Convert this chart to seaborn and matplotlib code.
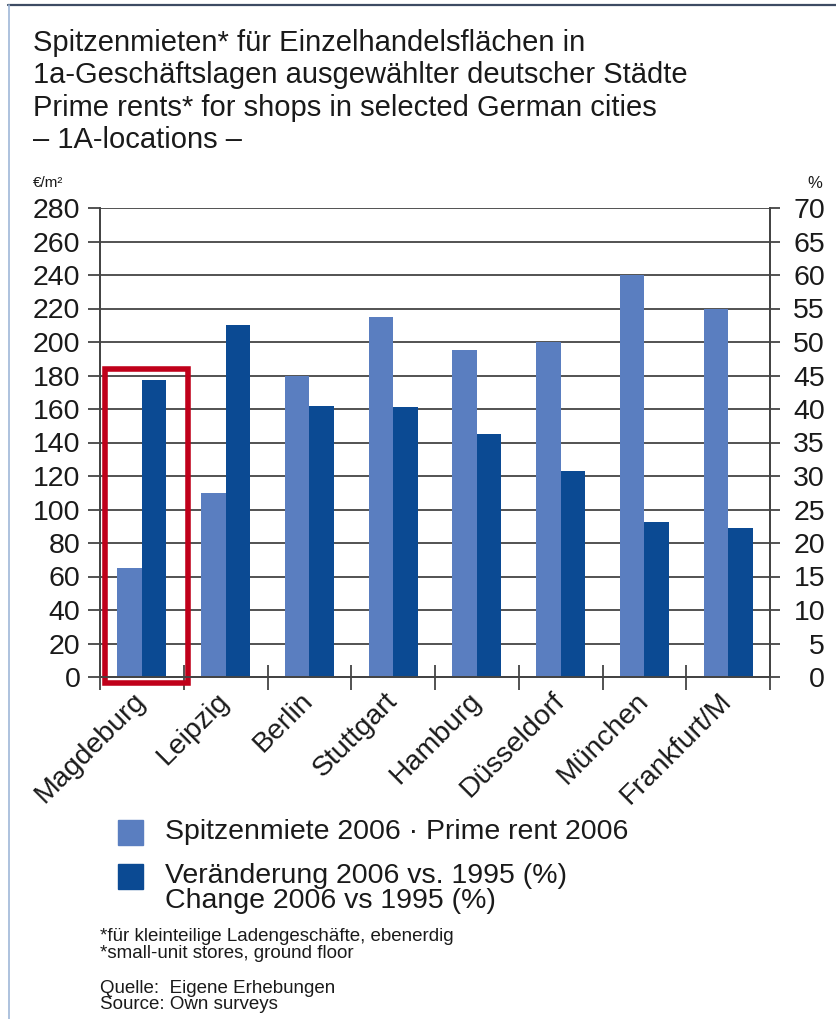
import numpy as np
import pandas as pd
import matplotlib
matplotlib.use("Agg")
import matplotlib.pyplot as plt
import seaborn as sns
from matplotlib.patches import Rectangle
from matplotlib.lines import Line2D
from matplotlib.ticker import FixedLocator

# ---------------- data ----------------
cities = ["Magdeburg", "Leipzig", "Berlin", "Stuttgart", "Hamburg",
          "Düsseldorf", "München", "Frankfurt/M"]
rent_2006 = [65, 110, 180, 215, 195, 200, 240, 220]          # €/m²
change_pct = [44.4, 52.6, 40.5, 40.3, 36.3, 30.7, 23.1, 22.2]  # %
left_ticks = list(range(0, 281, 20))
right_ticks = list(range(0, 71, 5))
series_rent = "Spitzenmiete 2006 · Prime rent 2006"
series_change = "Veränderung 2006 vs. 1995 (%)"
series_change_en = "Change 2006 vs 1995 (%)"
title_lines = ["Spitzenmieten* für Einzelhandelsflächen in",
               "1a-Geschäftslagen ausgewählter deutscher Städte",
               "Prime rents* for shops in selected German cities",
               "– 1A-locations –"]
footnotes = ["*für kleinteilige Ladengeschäfte, ebenerdig",
             "*small-unit stores, ground floor"]
sources = ["Quelle:  Eigene Erhebungen", "Source: Own surveys"]

light = "#5a7ec0"
dark = "#0b4a93"
palette = {series_rent: light, series_change: dark}
grid_c = "#444444"
txt_c = "#1a1a1a"

sns.set_theme(style="white")
plt.rcParams['font.family'] = ['Liberation Sans', 'DejaVu Sans']

W, H = 836, 1019
def fx(px): return px / W
def fy(py): return 1 - py / H

fig = plt.figure(figsize=(W / 100, H / 100), dpi=100)
ax = fig.add_axes([fx(100), fy(677), 670 / W, 469 / H])
ax2 = ax.twinx()

df = pd.DataFrame({
    "city": cities * 2,
    "series": [series_rent] * len(cities) + [series_change] * len(cities),
    "rent": rent_2006 + [np.nan] * len(cities),
    "change": [np.nan] * len(cities) + change_pct,
})
hue_order = [series_rent, series_change]
sns.barplot(data=df, x="city", y="rent", hue="series", hue_order=hue_order,
            palette=palette, width=0.585, gap=0, dodge=True, saturation=1,
            legend=False, ax=ax, errorbar=None, linewidth=0)
sns.barplot(data=df, x="city", y="change", hue="series", hue_order=hue_order,
            palette=palette, width=0.585, gap=0, dodge=True, saturation=1,
            legend=False, ax=ax2, errorbar=None, linewidth=0)

for a in (ax, ax2):
    a.set_xlabel("")
    a.set_ylabel("")
    a.spines["top"].set_visible(False)
    for s in ("left", "right", "bottom"):
        a.spines[s].set_color(grid_c)
        a.spines[s].set_linewidth(1.3)

ax.set_xlim(-0.5, len(cities) - 0.5)
ax.set_ylim(0, 280)
ax2.set_ylim(0, 70)
ax.set_yticks(left_ticks)
ax2.set_yticks(right_ticks)
ax.set_axisbelow(True)
ax.yaxis.grid(True, color=grid_c, linewidth=1.3)
ax.xaxis.grid(False)

ax.tick_params(axis="y", left=True, right=False, length=8.6, width=1.3,
               color=grid_c, labelsize=20.5, pad=5.5, labelcolor=txt_c)
ax2.tick_params(axis="y", right=True, left=False, length=7.2, width=1.3,
                color=grid_c, labelsize=20.5, pad=32.4, labelcolor=txt_c)
for lab in ax2.get_yticklabels():
    lab.set_ha("right")

ax.set_xticks(range(len(cities)))
ax.set_xticklabels(cities, rotation=45, ha="right", va="center",
                   rotation_mode="anchor", fontsize=20.5)
ax.tick_params(axis="x", which="major", length=0, pad=14.5, labelcolor=txt_c)
ax.xaxis.set_minor_locator(FixedLocator(np.arange(-0.5, len(cities), 1.0)))
ax.tick_params(axis="x", which="minor", bottom=True, direction="inout",
               length=18, width=1.3, color=grid_c)

# highlight box around Magdeburg
ax.add_patch(Rectangle((-0.44, -3.6), 0.99, 187.5, fill=False,
                       edgecolor="#c0001a", linewidth=4, clip_on=False,
                       zorder=10))

# titles
for i, line in enumerate(title_lines):
    fig.text(fx(33), fy(43 + i * 32.3), line, fontsize=21, ha="left",
             va="center", color=txt_c)
fig.text(fx(33), fy(183), "€/m²", fontsize=11, ha="left", va="center",
         color=txt_c)
fig.text(fx(822), fy(183), "%", fontsize=12, ha="right", va="center",
         color=txt_c)

# legend
fig.add_artist(Rectangle((fx(118), fy(845)), 25 / W, 25 / H,
                         transform=fig.transFigure, color=light))
fig.add_artist(Rectangle((fx(118), fy(889)), 25 / W, 25 / H,
                         transform=fig.transFigure, color=dark))
fig.text(fx(165), fy(832), series_rent, fontsize=20.5, ha="left",
         va="center", color=txt_c)
fig.text(fx(165), fy(888.5), series_change + "\n" + series_change_en,
         fontsize=20.5, ha="left", va="center", linespacing=0.92,
         color=txt_c)

# footnotes
fig.text(fx(100), fy(945), "\n".join(footnotes), fontsize=13.5, ha="left",
         va="center", linespacing=0.95, color=txt_c)
fig.text(fx(100), fy(996.5), "\n".join(sources), fontsize=13.5, ha="left",
         va="center", linespacing=0.98, color=txt_c)

# frame lines
fig.add_artist(Line2D([fx(8), 1], [fy(5), fy(5)], color="#3d4b63",
                      linewidth=1.6, transform=fig.transFigure))
fig.add_artist(Line2D([fx(9), fx(9)], [fy(5), 0], color="#9fb8d8",
                      linewidth=1.2, transform=fig.transFigure))

fig.savefig("out.png", dpi=100)
